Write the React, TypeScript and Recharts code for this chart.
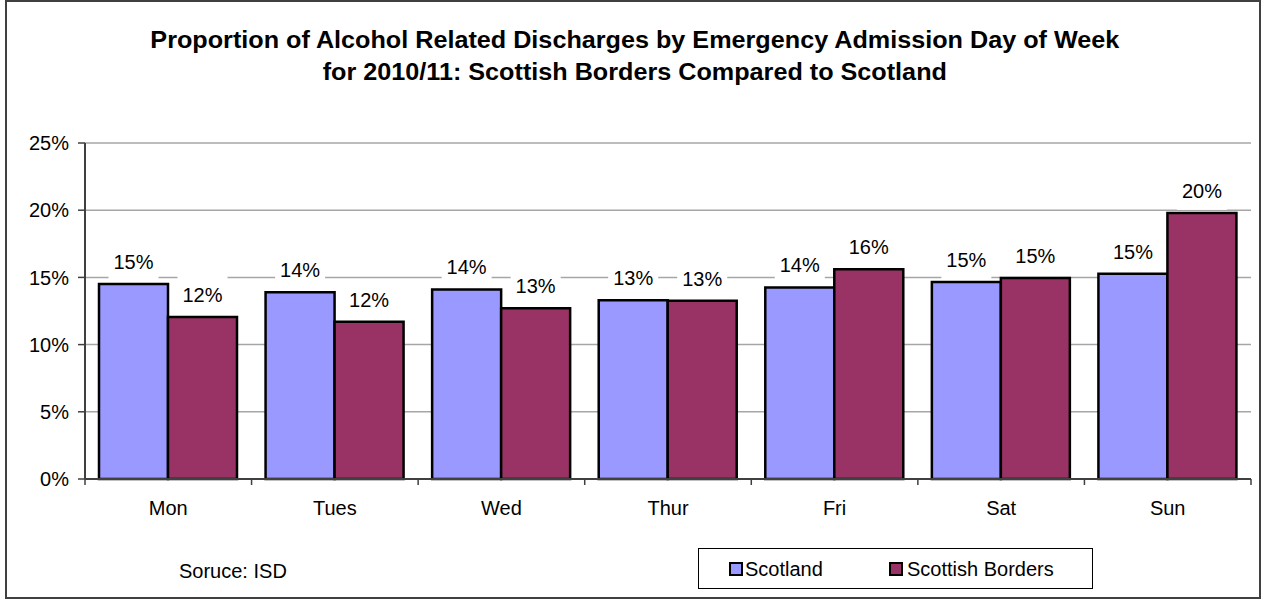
import { BarChart, Bar, XAxis, YAxis, CartesianGrid, LabelList } from 'recharts'

const days = ['Mon', 'Tues', 'Wed', 'Thur', 'Fri', 'Sat', 'Sun']
const scotland = [14.5, 13.9, 14.1, 13.3, 14.25, 14.66, 15.28]
const borders = [12.05, 11.7, 12.7, 13.27, 15.6, 14.95, 19.8]
const yTicks = [0, 5, 10, 15, 20, 25]

const data = days.map((day, i) => ({ day, scotland: scotland[i], borders: borders[i] }))

const FONT = '"Liberation Sans", Arial, sans-serif'

// excel-style data label: white box that hides the gridline behind it
const BarLabel = (props: any) => {
  const { x, y, width, value } = props
  const cx = x + width / 2
  return (
    <g>
      <rect x={cx - 25} y={y - 41} width={50} height={38} fill="#fff" />
      <text x={cx} y={y - 15} textAnchor="middle" fontSize={20} fontFamily={FONT} fill="#000">
        {Math.round(value)}%
      </text>
    </g>
  )
}

// category ticks sit between the groups, like excel
const DayTick = (props: any) => {
  const { x, y, payload, index } = props
  const half = payload?.offset || 83.3
  return (
    <g>
      <line x1={x - half} x2={x - half} y1={y} y2={y + 6} stroke="#404040" strokeWidth={1.5} />
      {index === days.length - 1 && (
        <line x1={x + half} x2={x + half} y1={y} y2={y + 6} stroke="#404040" strokeWidth={1.5} />
      )}
      <text x={x} y={y + 36} textAnchor="middle" fontSize={20} fontFamily={FONT} fill="#000">
        {payload.value}
      </text>
    </g>
  )
}

export default function App() {
  return (
    <div style={{ position: 'absolute', left: 0, top: 0, width: 1270, height: 600, background: '#fff', fontFamily: FONT }}>
      <div
        style={{
          position: 'absolute', left: 5, top: 0, width: 1256, height: 599,
          border: '2px solid #404040', boxSizing: 'border-box',
        }}
      />
      <div
        style={{
          position: 'absolute', left: 0, top: 24, width: 1270, textAlign: 'center',
          fontSize: 23, fontWeight: 'bold', lineHeight: '32px', color: '#000',
          transform: 'scaleX(1.095)', transformOrigin: '637px 0',
        }}
      >
        Proportion of Alcohol Related Discharges by Emergency Admission Day of Week
        <br />
        for 2010/11: Scottish Borders Compared to Scotland
      </div>

      <div style={{ position: 'absolute', left: 0, top: 0 }}>
        <BarChart
          width={1270}
          height={600}
          data={data}
          margin={{ top: 143, right: 19, left: 5, bottom: 91 }}
          barGap={0}
          barSize={69}
        >
          <CartesianGrid vertical={false} stroke="#a6a6a6" strokeWidth={1.5} />
          <XAxis
            dataKey="day"
            height={30}
            tickSize={0}
            tickMargin={0}
            tickLine={false}
            axisLine={{ stroke: '#404040', strokeWidth: 2 }}
            tick={<DayTick />}
            interval={0}
          />
          <YAxis
            width={80}
            domain={[0, 25]}
            ticks={yTicks}
            tickFormatter={(v: number) => `${v}%`}
            tick={{ fontSize: 20, fill: '#000', fontFamily: FONT }}
            tickSize={7}
            tickMargin={9}
            tickLine={{ stroke: '#404040', strokeWidth: 1.5 }}
            axisLine={{ stroke: '#404040', strokeWidth: 2 }}
          />
          <YAxis
            yAxisId="r"
            orientation="right"
            width={0}
            domain={[0, 25]}
            tick={false}
            tickLine={false}
            axisLine={{ stroke: '#999', strokeWidth: 2 }}
          />
          <Bar dataKey="scotland" fill="#9999FF" stroke="#000" strokeWidth={2.5} isAnimationActive={false}>
            <LabelList dataKey="scotland" content={<BarLabel />} />
          </Bar>
          <Bar dataKey="borders" fill="#993366" stroke="#000" strokeWidth={2.5} isAnimationActive={false}>
            <LabelList dataKey="borders" content={<BarLabel />} />
          </Bar>
        </BarChart>
      </div>

      <div style={{ position: 'absolute', left: 179, top: 561, fontSize: 20, lineHeight: '20px', color: '#000' }}>
        Soruce: ISD
      </div>

      <div
        style={{
          position: 'absolute', left: 698, top: 548, width: 395, height: 41,
          border: '1px solid #000', boxSizing: 'border-box', fontSize: 20,
        }}
      >
        <div style={{ position: 'absolute', left: 30, top: 13, width: 14, height: 14, background: '#9999FF', border: '2px solid #000', boxSizing: 'border-box' }} />
        <div style={{ position: 'absolute', left: 46, top: 10, lineHeight: '20px' }}>Scotland</div>
        <div style={{ position: 'absolute', left: 190, top: 13, width: 14, height: 14, background: '#993366', border: '2px solid #000', boxSizing: 'border-box' }} />
        <div style={{ position: 'absolute', left: 208, top: 10, lineHeight: '20px' }}>Scottish Borders</div>
      </div>
    </div>
  )
}
